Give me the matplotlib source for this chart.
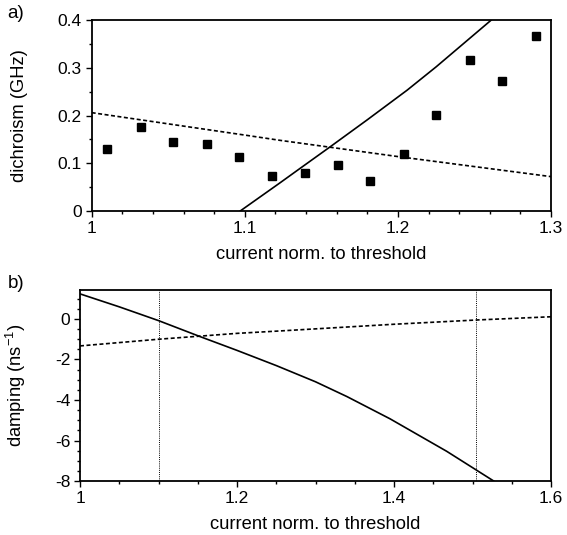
import matplotlib
matplotlib.use('Agg')
import matplotlib.pyplot as plt
from matplotlib.ticker import MultipleLocator

plt.rcParams['font.family'] = ['Liberation Sans', 'DejaVu Sans']

# panel a) measured dichroism (squares)
a_x = [1.010, 1.032, 1.053, 1.075, 1.096, 1.118, 1.139, 1.161, 1.182, 1.204, 1.225, 1.247, 1.268, 1.290]
a_y = [0.130, 0.175, 0.144, 0.140, 0.113, 0.074, 0.080, 0.097, 0.063, 0.120, 0.201, 0.316, 0.273, 0.366]
# panel a) solid curve
a_solid_x = [1.097, 1.123, 1.136, 1.156, 1.180, 1.206, 1.225, 1.261]
a_solid_y = [0.0, 0.059, 0.089, 0.135, 0.191, 0.253, 0.302, 0.400]
# panel a) dashed curve
a_dash_x = [1.0, 1.1, 1.123, 1.2, 1.3]
a_dash_y = [0.206, 0.159, 0.148, 0.114, 0.072]

# panel b) solid damping curve
b_solid_x = [1.0, 1.05, 1.1, 1.153, 1.2, 1.25, 1.3, 1.34, 1.395, 1.467, 1.527]
b_solid_y = [1.24, 0.60, -0.08, -0.87, -1.55, -2.30, -3.10, -3.83, -4.93, -6.53, -8.00]
# panel b) dashed damping curve
b_dash_x = [1.0, 1.1, 1.2, 1.255, 1.4, 1.505, 1.6]
b_dash_y = [-1.33, -1.00, -0.71, -0.59, -0.26, -0.05, 0.11]
# panel b) vertical dotted markers
b_vlines = [1.1, 1.505]

fig = plt.figure(figsize=(5.67, 5.35), dpi=100)

dash = (0, (2.4, 1.5))


def style_axes(ax):
    for s in ax.spines.values():
        s.set_linewidth(1.3)
    ax.tick_params(which='both', direction='out', top=False, right=False,
                   labelsize=12.5, width=1.0)
    ax.tick_params(which='major', length=4.5, pad=2.5)
    ax.tick_params(which='minor', length=2.5)


# ---- panel a)
ax1 = fig.add_axes([0.1617, 0.6056, 0.8101, 0.3570])
ax1.plot(a_x, a_y, 's', color='black', ms=6.2)
ax1.plot(a_solid_x, a_solid_y, '-', color='black', lw=1.2)
ax1.plot(a_dash_x, a_dash_y, color='black', lw=1.2, linestyle=dash)
ax1.set_xlim(1.0, 1.3)
ax1.set_ylim(0, 0.4)
ax1.set_xticks([1.0, 1.1, 1.2, 1.3])
ax1.set_xticklabels(['1', '1.1', '1.2', '1.3'])
ax1.xaxis.set_minor_locator(MultipleLocator(0.02))
ax1.set_yticks([0, 0.1, 0.2, 0.3, 0.4])
ax1.set_yticklabels(['0', '0.1', '0.2', '0.3', '0.4'])
ax1.yaxis.set_minor_locator(MultipleLocator(0.05))
style_axes(ax1)
ax1.set_xlabel('current norm. to threshold', fontsize=13.2)
ax1.set_ylabel('dichroism (GHz)', fontsize=13.2)
ax1.yaxis.set_label_coords(-0.139, 0.5)
ax1.xaxis.set_label_coords(0.5, -0.185)
fig.text(0.013, 0.975, 'a)', fontsize=13.5, va='center')

# ---- panel b)
ax2 = fig.add_axes([0.1411, 0.1009, 0.8307, 0.3570])
ax2.plot(b_solid_x, b_solid_y, '-', color='black', lw=1.2)
ax2.plot(b_dash_x, b_dash_y, color='black', lw=1.2, linestyle=dash)
for xv in b_vlines:
    ax2.axvline(xv, color='black', lw=0.7, linestyle=(0, (1, 1.2)))
ax2.set_xlim(1.0, 1.6)
ax2.set_ylim(-8, 1.43)
ax2.set_xticks([1.0, 1.2, 1.4, 1.6])
ax2.set_xticklabels(['1', '1.2', '1.4', '1.6'])
ax2.xaxis.set_minor_locator(MultipleLocator(0.05))
ax2.set_yticks([-8, -6, -4, -2, 0])
ax2.set_yticklabels(['-8', '-6', '-4', '-2', '0'])
ax2.yaxis.set_minor_locator(MultipleLocator(0.5))
style_axes(ax2)
ax2.set_xlabel('current norm. to threshold', fontsize=13.2)
ax2.set_ylabel('damping (ns$^{\\mathregular{-1}}$)', fontsize=13.2)
ax2.yaxis.set_label_coords(-0.110, 0.5)
ax2.xaxis.set_label_coords(0.5, -0.185)
fig.text(0.013, 0.471, 'b)', fontsize=13.5, va='center')

fig.savefig('out.png', dpi=100)
